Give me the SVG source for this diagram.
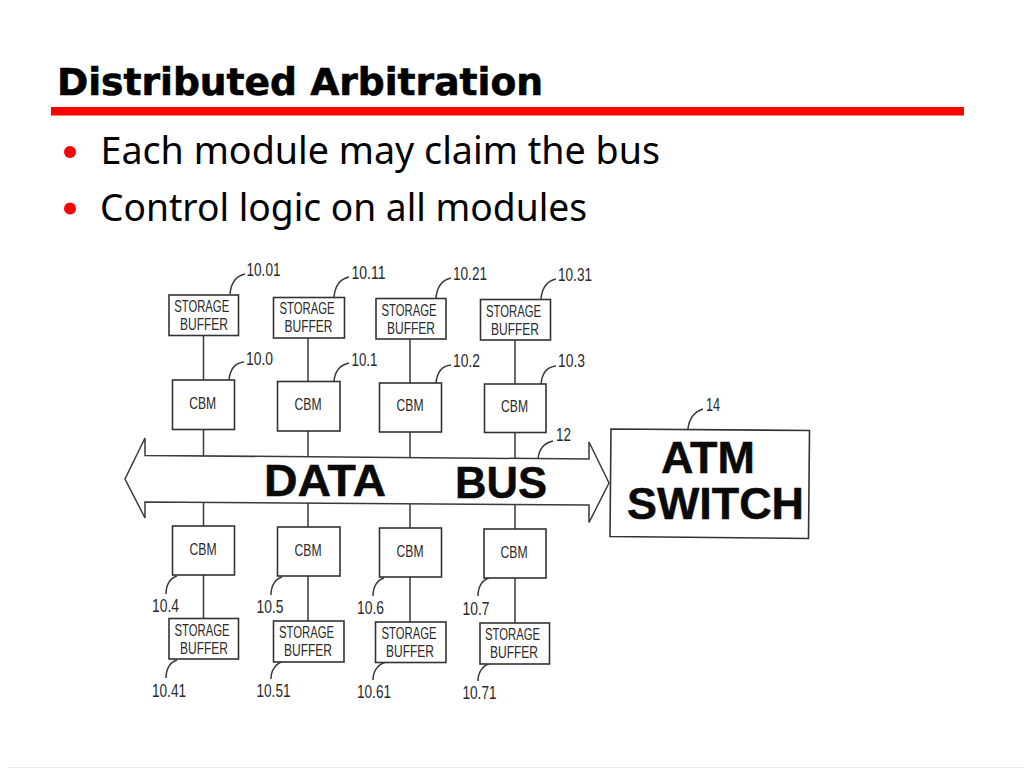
<svg xmlns="http://www.w3.org/2000/svg" width="1024" height="768" viewBox="0 0 1024 768">
<defs><style>
.bg{fill:#fff}
.title{font:bold 37px "DejaVu Sans","Liberation Sans",sans-serif;fill:#000;stroke:#000;stroke-width:.6}
.bul{font:38.500px "Noto Sans","DejaVu Sans",sans-serif;fill:#000}
.dot{fill:#f00}
.box{fill:#fff;stroke:#333;stroke-width:1.6}
.line,.lead{fill:none;stroke:#3a3a3a;stroke-width:1.5}
.t{font:17px "Liberation Sans",Arial,sans-serif;fill:#2a2a2a;text-anchor:middle}
.n{font:18px "Liberation Sans",Arial,sans-serif;fill:#2a2a2a}
.big{font:bold 45px "Liberation Sans",Arial,sans-serif;fill:#0a0a0a;stroke:#0a0a0a;stroke-width:.5;text-anchor:middle}
</style></defs>
<rect class="bg" width="1024" height="768"/>
<rect x="8" y="767" width="1016" height="1" fill="#ececec"/>
<text class="title" x="57" y="95" textLength="486" lengthAdjust="spacingAndGlyphs">Distributed Arbitration</text>
<rect x="51" y="107" width="913" height="8.500" fill="#f00"/>
<circle class="dot" cx="70" cy="152" r="6"/>
<circle class="dot" cx="70" cy="208.500" r="6"/>
<text class="bul" x="100.500" y="164" textLength="559.500" lengthAdjust="spacingAndGlyphs">Each module may claim the bus</text>
<text class="bul" x="100" y="221" textLength="487" lengthAdjust="spacingAndGlyphs">Control logic on all modules</text>

<g id="connectors">
<path class="line" d="M203.500 336V380M203.500 429.500V455.500M203.500 502.500V526M203.500 575V618.500"/>
<path class="line" d="M308 338V381.500M308 431V456.500M308 503V527M308 576V621"/>
<path class="line" d="M410 339V383M410 432V457.500M410 503.500V528M410 577V622"/>
<path class="line" d="M515 340V384M515 432.500V458.500M515 504.500V529M515 578V623"/>
<path class="lead" d="M230 294C231 283 236 276 245 274M334 297C335 286 340 279 349 277M436 298C437 287 442 280 451 278M541 299C542 288 547 281 556 279"/>
<path class="lead" d="M229 380C230 369 235 363 244 362M334 381C335 371 340 365 349 363M436 383C437 372 442 366 451 365M541 384C542 373 547 367 556 366"/>
<path class="lead" d="M538 459C539 449 544 443 553 441M688 429C689 419 694 412 703 409"/>
<path class="lead" d="M177 576C170 578 166 585 166 594M282 577C275 579 271 586 271 595M384 578C377 580 373 587 373 596M489 578C482 580 478 587 478 596"/>
<path class="lead" d="M177 660C170 662 166 669 166 678M284 661C276 663 271 670 271 679M386 662C378 664 373 671 373 680M491 663C483 665 478 672 478 681"/>
</g>

<g id="data-bus">
<path class="line" d="M145 438L125 479L145 518L145 502L589 505L589 522.500L609 483L589 442L589 459L145 455.500Z"/>
<text class="big" x="325" y="496" textLength="122" lengthAdjust="spacingAndGlyphs">DATA</text>
<text class="big" x="501" y="498" textLength="92" lengthAdjust="spacingAndGlyphs">BUS</text>
</g>

<g id="atm-switch">
<path class="box" d="M611 429L809.500 430.500L808.500 538.500L610 536.500Z"/>
<text class="big" x="708" y="472.500" textLength="94" lengthAdjust="spacingAndGlyphs">ATM</text>
<text class="big" x="715.500" y="518.500" textLength="177" lengthAdjust="spacingAndGlyphs">SWITCH</text>
</g>

<g id="sb-1001"><rect class="box" x="169" y="295" width="69.500" height="40.500"/><text class="t" x="201.700" y="311.500" textLength="55" lengthAdjust="spacingAndGlyphs">STORAGE</text><text class="t" x="204" y="329.500" textLength="48" lengthAdjust="spacingAndGlyphs">BUFFER</text></g>
<g id="sb-1011"><rect class="box" x="273.500" y="297.500" width="71" height="40.500"/><text class="t" x="307" y="314" textLength="55" lengthAdjust="spacingAndGlyphs">STORAGE</text><text class="t" x="308.500" y="332" textLength="48" lengthAdjust="spacingAndGlyphs">BUFFER</text></g>
<g id="sb-1021"><rect class="box" x="376" y="298.500" width="70" height="40.500"/><text class="t" x="409" y="315.500" textLength="55" lengthAdjust="spacingAndGlyphs">STORAGE</text><text class="t" x="411" y="333.500" textLength="48" lengthAdjust="spacingAndGlyphs">BUFFER</text></g>
<g id="sb-1031"><rect class="box" x="480.500" y="299.500" width="70" height="40.500"/><text class="t" x="513.500" y="316.500" textLength="55" lengthAdjust="spacingAndGlyphs">STORAGE</text><text class="t" x="515" y="335" textLength="48" lengthAdjust="spacingAndGlyphs">BUFFER</text></g>
<g id="cbm-100"><rect class="box" x="172.500" y="380" width="62" height="49.500"/><text class="t" x="202.700" y="409" textLength="27" lengthAdjust="spacingAndGlyphs">CBM</text></g>
<g id="cbm-101"><rect class="box" x="277.500" y="381.500" width="62.500" height="49.500"/><text class="t" x="308" y="410" textLength="27" lengthAdjust="spacingAndGlyphs">CBM</text></g>
<g id="cbm-102"><rect class="box" x="379.500" y="383" width="62" height="49"/><text class="t" x="410" y="411" textLength="27" lengthAdjust="spacingAndGlyphs">CBM</text></g>
<g id="cbm-103"><rect class="box" x="484.500" y="384" width="61.500" height="48.500"/><text class="t" x="514.500" y="412" textLength="27" lengthAdjust="spacingAndGlyphs">CBM</text></g>
<g id="cbm-104"><rect class="box" x="172.500" y="526" width="62" height="49"/><text class="t" x="203" y="554.500" textLength="27" lengthAdjust="spacingAndGlyphs">CBM</text></g>
<g id="cbm-105"><rect class="box" x="277.500" y="527" width="62.500" height="49"/><text class="t" x="308" y="555.500" textLength="27" lengthAdjust="spacingAndGlyphs">CBM</text></g>
<g id="cbm-106"><rect class="box" x="379.500" y="528" width="62" height="49"/><text class="t" x="410" y="556.500" textLength="27" lengthAdjust="spacingAndGlyphs">CBM</text></g>
<g id="cbm-107"><rect class="box" x="484" y="529" width="62" height="49"/><text class="t" x="514" y="557.500" textLength="27" lengthAdjust="spacingAndGlyphs">CBM</text></g>
<g id="sb-1041"><rect class="box" x="169" y="618.500" width="69.500" height="40.500"/><text class="t" x="202" y="635.500" textLength="55" lengthAdjust="spacingAndGlyphs">STORAGE</text><text class="t" x="204" y="653.500" textLength="48" lengthAdjust="spacingAndGlyphs">BUFFER</text></g>
<g id="sb-1051"><rect class="box" x="273.500" y="621" width="70.500" height="41"/><text class="t" x="306.500" y="638" textLength="55" lengthAdjust="spacingAndGlyphs">STORAGE</text><text class="t" x="308" y="656" textLength="48" lengthAdjust="spacingAndGlyphs">BUFFER</text></g>
<g id="sb-1061"><rect class="box" x="375.500" y="622" width="70.500" height="40.500"/><text class="t" x="409" y="639" textLength="55" lengthAdjust="spacingAndGlyphs">STORAGE</text><text class="t" x="410" y="657" textLength="48" lengthAdjust="spacingAndGlyphs">BUFFER</text></g>
<g id="sb-1071"><rect class="box" x="480" y="623" width="69.500" height="41"/><text class="t" x="512.500" y="640" textLength="55" lengthAdjust="spacingAndGlyphs">STORAGE</text><text class="t" x="514" y="658" textLength="48" lengthAdjust="spacingAndGlyphs">BUFFER</text></g>

<g id="labels">
<text class="n" x="246.500" y="276" textLength="34" lengthAdjust="spacingAndGlyphs">10.01</text><text class="n" x="351.500" y="279" textLength="34" lengthAdjust="spacingAndGlyphs">10.11</text><text class="n" x="453" y="280" textLength="34" lengthAdjust="spacingAndGlyphs">10.21</text><text class="n" x="558" y="281" textLength="34" lengthAdjust="spacingAndGlyphs">10.31</text>
<text class="n" x="246" y="365" textLength="27" lengthAdjust="spacingAndGlyphs">10.0</text><text class="n" x="351.500" y="365.500" textLength="26" lengthAdjust="spacingAndGlyphs">10.1</text><text class="n" x="453" y="366.500" textLength="27" lengthAdjust="spacingAndGlyphs">10.2</text><text class="n" x="558" y="367" textLength="27" lengthAdjust="spacingAndGlyphs">10.3</text>
<text class="n" x="556" y="440.500" textLength="15" lengthAdjust="spacingAndGlyphs">12</text><text class="n" x="706" y="410.500" textLength="14" lengthAdjust="spacingAndGlyphs">14</text>
<text class="n" x="152" y="612" textLength="27" lengthAdjust="spacingAndGlyphs">10.4</text><text class="n" x="256.500" y="613" textLength="27" lengthAdjust="spacingAndGlyphs">10.5</text><text class="n" x="357" y="614" textLength="27" lengthAdjust="spacingAndGlyphs">10.6</text><text class="n" x="462.500" y="614.500" textLength="27" lengthAdjust="spacingAndGlyphs">10.7</text>
<text class="n" x="152" y="696.500" textLength="34" lengthAdjust="spacingAndGlyphs">10.41</text><text class="n" x="256.500" y="697" textLength="34" lengthAdjust="spacingAndGlyphs">10.51</text><text class="n" x="357" y="698" textLength="34" lengthAdjust="spacingAndGlyphs">10.61</text><text class="n" x="462.500" y="699" textLength="34" lengthAdjust="spacingAndGlyphs">10.71</text>
</g>
</svg>
